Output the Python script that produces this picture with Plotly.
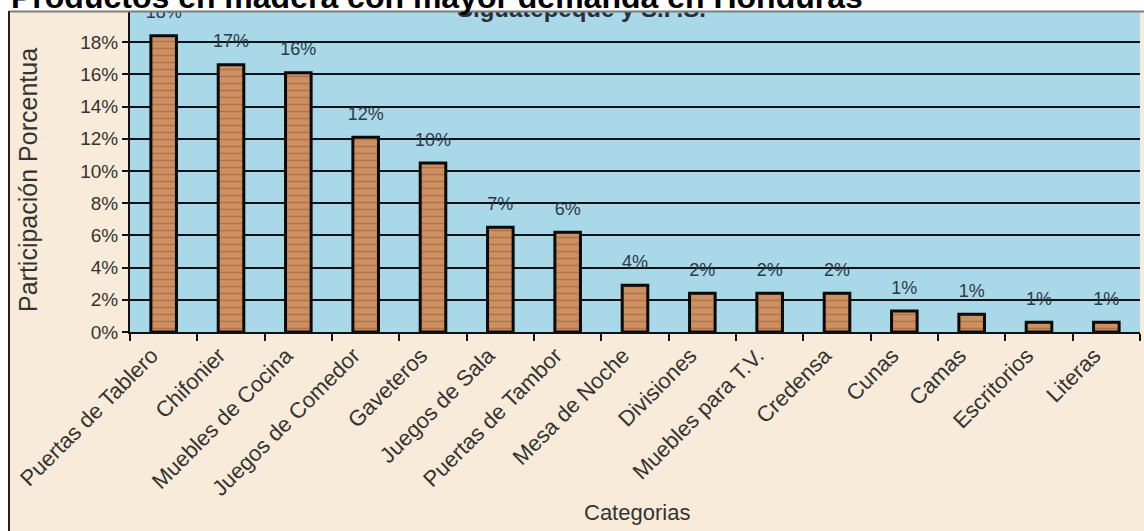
import plotly.graph_objects as go

categorias = ["Puertas de Tablero", "Chifonier", "Muebles de Cocina", "Juegos de Comedor",
              "Gaveteros", "Juegos de Sala", "Puertas de Tambor", "Mesa de Noche",
              "Divisiones", "Muebles para T.V.", "Credensa", "Cunas", "Camas",
              "Escritorios", "Literas"]
participacion = [18.4, 16.6, 16.1, 12.1, 10.5, 6.5, 6.2, 2.9, 2.4, 2.4, 2.4, 1.3, 1.1, 0.6, 0.6]
etiquetas = ["18%", "17%", "16%", "12%", "10%", "7%", "6%", "4%", "2%", "2%", "2%",
             "1%", "1%", "1%", "1%"]
y_ticks = [0, 2, 4, 6, 8, 10, 12, 14, 16, 18, 20]
y_tick_text = ["0%", "2%", "4%", "6%", "8%", "10%", "12%", "14%", "16%", "18%", "20%"]

titulo = "Productos en madera con mayor demanda en Honduras"
subtitulo = "Siguatepeque y S.P.S."
titulo_y = "Participación Porcentua"
titulo_x = "Categorias"

W, H = 1144, 531
L, R, T, B = 130, 1140, 10, 332


def px(x):
    return (x - L) / (R - L)


def py(y):
    return (B - y) / (B - T)


FONT = "Arial, Liberation Sans, sans-serif"
BEIGE = "#f8ebd9"
BLUE = "#a9d8e8"

fig = go.Figure()

fig.add_trace(go.Bar(
    x=categorias, y=participacion, width=0.38,
    marker=dict(color="#cd9063",
                line=dict(color="#0a0a0a", width=3),
                pattern=dict(shape="-", fgcolor="#9c5a33", size=7, solidity=0.22, fgopacity=0.55)),
    hoverinfo="x+y", showlegend=False,
))

fig.add_trace(go.Scatter(
    x=categorias, y=participacion, text=etiquetas, mode="markers+text",
    textposition="top center",
    marker=dict(size=19, color="rgba(0,0,0,0)"),
    textfont=dict(family=FONT, size=18, color="#2e3a48"),
    cliponaxis=True, showlegend=False, hoverinfo="skip",
))

fig.add_trace(go.Scatter(
    x=[0.447], y=[19.92], text=["<b>" + subtitulo + "</b>"], mode="text", xaxis="x2",
    textposition="middle center",
    textfont=dict(family=FONT, size=24, color="#2a2f38"),
    cliponaxis=True, showlegend=False, hoverinfo="skip",
))

fig.update_layout(
    width=W, height=H, autosize=False,
    margin=dict(l=L, r=W - R, t=T, b=H - B, pad=0),
    paper_bgcolor=BEIGE, plot_bgcolor=BLUE,
    font=dict(family=FONT, color="#333333"),
    xaxis=dict(type="category", range=[-0.5, len(categorias) - 0.5], autorange=False,
               tickangle=-45, tickfont=dict(size=22, color="#333333"),
               ticklabelshift=-12,
               ticks="outside", tickson="boundaries", ticklen=7, tickwidth=2, tickcolor="#111",
               showline=True, linecolor="#111", linewidth=2, showgrid=False),
    xaxis2=dict(overlaying="x", range=[0, 1], visible=False),
    yaxis=dict(range=[0, 20], autorange=False, tickvals=y_ticks, ticktext=y_tick_text,
               tickfont=dict(size=19, color="#333333"),
               ticks="outside", ticklen=6, tickwidth=2, tickcolor="#111",
               showline=True, linecolor="#111", linewidth=2,
               showgrid=True, gridcolor="#111111", gridwidth=1.6, zeroline=False),
    shapes=[
        dict(type="rect", xref="paper", yref="paper", x0=px(-5), x1=px(W + 5), y0=py(11), y1=py(-5),
             fillcolor="white", line=dict(width=0), layer="above"),
        dict(type="rect", xref="paper", yref="paper", x0=px(-5), x1=px(8), y0=py(H + 5), y1=py(-5),
             fillcolor="white", line=dict(width=0), layer="above"),
        dict(type="line", xref="paper", yref="paper", x0=px(9), x1=px(W + 5), y0=py(11.5), y1=py(11.5),
             line=dict(color="#7d7d7d", width=2), layer="above"),
        dict(type="line", xref="paper", yref="paper", x0=px(9), x1=px(9), y0=py(11), y1=py(H + 5),
             line=dict(color="#222222", width=2), layer="above"),
    ],
    annotations=[
        dict(text="<b>" + titulo + "</b>", xref="paper", yref="paper", x=px(9), y=py(17),
             xanchor="left", yanchor="bottom", showarrow=False,
             font=dict(family=FONT, size=32, color="#000000")),
        dict(text=titulo_y, xref="paper", yref="paper", x=px(28), y=py(180),
             xanchor="center", yanchor="middle", textangle=-90, showarrow=False,
             font=dict(family=FONT, size=25, color="#333333")),
        dict(text=titulo_x, xref="paper", yref="paper", x=px(637), y=py(512),
             xanchor="center", yanchor="middle", showarrow=False,
             font=dict(family=FONT, size=22, color="#333333")),
    ],
)

fig.write_html("out.html")
